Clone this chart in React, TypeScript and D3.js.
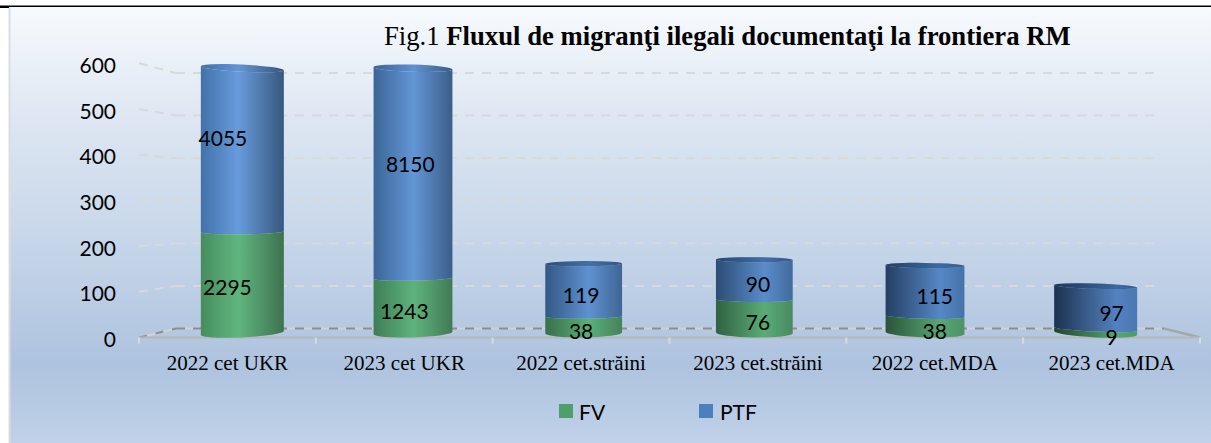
import React from 'react';
import * as d3 from 'd3';

const categories = ['2022 cet UKR', '2023 cet UKR', '2022 cet.străini', '2023 cet.străini', '2022 cet.MDA', '2023 cet.MDA'];
const fvValues = [2295, 1243, 38, 76, 38, 9];
const ptfValues = [4055, 8150, 119, 90, 115, 97];
// the UKR columns are drawn at a tenth of their labels, the axis stops them at 600
const plotDivisor = [10, 10, 1, 1, 1, 1];
const yTicks = [0, 100, 200, 300, 400, 500, 600];
const legendNames = ['FV', 'PTF'];

const WIDTH = 1211;
const HEIGHT = 443;
const LABEL_FONT = 'Lato, "Open Sans", sans-serif';
const SERIF_FONT = '"Liberation Serif", "Times New Roman", serif';

// front edge, middle (where the columns stand) and back wall of the 3D box
const yFront = d3.scaleLinear().domain([0, 600]).range([337.5, 63.3]).clamp(true);
const yMid = d3.scaleLinear().domain([0, 600]).range([333, 68.2]).clamp(true);
const yBack = d3.scaleLinear().domain([0, 600]).range([328.5, 73]).clamp(true);
const xFront = d3.scaleBand<string>().domain(categories).range([139, 1200]);
const xMid = d3.scaleBand<string>().domain(categories).range([157, 1181]);
const xBack = d3.scaleBand<string>().domain(categories).range([176, 1164]);

const BASE_RY = 4.4;
const TOP_RY = 2.6;
const CLIPPED_RY = 3.6;

// -1 for the leftmost column, +1 for the rightmost
const sideOf = d3.scaleLinear().domain([0, categories.length - 1]).range([-1, 1]);

const palettes = {
  FV: {
    left: d3.interpolateRgb('#468c5e', '#234530'),
    mid: d3.interpolateRgb('#60b67e', '#55a572'),
    right: d3.interpolateRgb('#3f7250', '#4f9a6a'),
  },
  PTF: {
    left: d3.interpolateRgb('#4272a9', '#1d3250'),
    mid: d3.interpolateRgb('#679bdc', '#5282c0'),
    right: d3.interpolateRgb('#37587f', '#4a78b3'),
  },
};

// hand-moved labels in the original
const labelNudge: Record<string, [number, number]> = {
  'PTF-0': [-4.5, -4],
  'PTF-1': [6, -10],
};

function disc(cx: number, y: number, w: number, side: number, ry: number) {
  const tilt = (side * 4 * (y - 200)) / 134;
  return {
    x0: cx - w / 2,
    x1: cx + w / 2,
    y0: y - tilt / 2,
    y1: y + tilt / 2,
    rx: w / 2,
    ry,
    rot: (Math.atan2(tilt, w) * 180) / Math.PI,
  };
}

function bodyPath(low: ReturnType<typeof disc>, high: ReturnType<typeof disc>) {
  return `M${low.x0},${low.y0}A${low.rx},${low.ry} ${low.rot} 0 0 ${low.x1},${low.y1}` +
    `L${high.x1},${high.y1}A${high.rx},${high.ry} ${high.rot} 0 1 ${high.x0},${high.y0}Z`;
}

function capPath(d: ReturnType<typeof disc>) {
  return `M${d.x0},${d.y0}A${d.rx},${d.ry} ${d.rot} 0 0 ${d.x1},${d.y1}` +
    `A${d.rx},${d.ry} ${d.rot} 0 0 ${d.x0},${d.y0}Z`;
}

export default function App() {
  const columns = categories.map((name, i) => {
    const side = sideOf(i);
    const w = 76.5 + 6.5 * side * side;
    const cx = xMid(name)! + xMid.bandwidth() / 2;
    const fv = fvValues[i] / plotDivisor[i];
    const ptf = ptfValues[i] / plotDivisor[i];
    const clipped = fv + ptf > 600;
    const bottom = disc(cx, yMid(0), w, side, BASE_RY);
    const split = disc(cx, yMid(fv), w, side, TOP_RY);
    const top = disc(cx, yMid(fv + ptf), w, side, clipped ? CLIPPED_RY : TOP_RY);
    return { name, i, side, fv, ptf, bottom, split, top, clipped, hi: 60 + 15 * side };
  });

  const labelX = (name: string) => xFront(name)! + xFront.bandwidth() / 2;
  const tickEdges = [...categories.map(c => xFront(c)!), xFront.range()[1]];
  const backLeft = xBack.range()[0];
  const backRight = xBack.range()[1];

  return (
    <svg width={WIDTH} height={HEIGHT} style={{ position: 'absolute', left: 0, top: 0, display: 'block' }}>
      <defs>
        <linearGradient id="panel" x1="0" y1="0" x2="0" y2="1">
          <stop offset="0%" stopColor="#f7fafd" />
          <stop offset="26%" stopColor="#dde6f2" />
          <stop offset="52%" stopColor="#c8d7ea" />
          <stop offset="82%" stopColor="#aec3df" />
          <stop offset="100%" stopColor="#c0d1e8" />
        </linearGradient>
        {columns.map(c => (
          <React.Fragment key={c.name}>
            {(['FV', 'PTF'] as const).map(s => {
              const t = (c.side + 1) / 2;
              return (
                <linearGradient key={s} id={`${s}-${c.i}`} x1="0" y1="0" x2="1" y2="0">
                  <stop offset="0%" stopColor={palettes[s].left(t)} />
                  <stop offset={`${c.hi}%`} stopColor={palettes[s].mid(t)} />
                  <stop offset="100%" stopColor={palettes[s].right(t)} />
                </linearGradient>
              );
            })}
          </React.Fragment>
        ))}
      </defs>

      <rect x={0} y={0} width={WIDTH} height={HEIGHT} fill="#fff" />
      <rect x={9} y={7} width={WIDTH - 9} height={HEIGHT - 7} fill="url(#panel)" />
      <line x1={9.5} x2={9.5} y1={7} y2={HEIGHT} stroke="#d9dde2" strokeWidth={2} />
      <line x1={0} x2={WIDTH} y1={6.3} y2={6.3} stroke="#000" strokeWidth={1.4} />
      <line x1={0} x2={9} y1={7} y2={7} stroke="#000" strokeWidth={2} />

      <text x={384} y={45} fontFamily={SERIF_FONT} fontSize={26.7} fill="#000">
        Fig.1 <tspan fontWeight="bold">Fluxul de migranţi ilegali documentaţi la frontiera RM</tspan>
      </text>

      {/* gridlines on the side and back walls */}
      {yTicks.filter(t => t > 0).map(t => (
        <g key={t} fill="none" stroke="#d7d9db" strokeWidth={2}>
          <line x1={xFront.range()[0]} y1={yFront(t)} x2={backLeft} y2={yBack(t)} strokeDasharray="9 7" />
          <line x1={backLeft} y1={yBack(t)} x2={backRight - 6} y2={yBack(t)} strokeDasharray="9 8" />
        </g>
      ))}

      {/* floor */}
      <g fill="none">
        <line x1={xFront.range()[0]} y1={yFront(0)} x2={backLeft} y2={yBack(0)} stroke="#cfd2d6" strokeWidth={2} />
        <line x1={xFront.range()[0]} y1={yFront(0)} x2={backLeft} y2={yBack(0)} stroke="#8d8d8d" strokeWidth={2} strokeDasharray="8 9" />
        <line x1={backLeft} y1={yBack(0)} x2={backRight} y2={yBack(0)} stroke="#cfd2d6" strokeWidth={2} />
        <line x1={backLeft} y1={yBack(0)} x2={backRight} y2={yBack(0)} stroke="#8d8d8d" strokeWidth={2} strokeDasharray="9 8" />
        <line x1={backRight} y1={yBack(0)} x2={xFront.range()[1]} y2={yFront(0)} stroke="#a6a6a6" strokeWidth={2.5} />
        <line x1={xFront.range()[0]} y1={yFront(0)} x2={xFront.range()[1]} y2={yFront(0)} stroke="#b5b8bb" strokeWidth={2} />
        {tickEdges.map(x => (
          <line key={x} x1={x} x2={x} y1={yFront(0)} y2={yFront(0) + 6} stroke="#d8dadc" strokeWidth={2} />
        ))}
      </g>

      {/* columns */}
      {columns.map(c => (
        <g key={c.name}>
          <path d={bodyPath(c.split, c.top)} fill={`url(#PTF-${c.i})`} />
          <path d={capPath(c.top)} fill={`url(#PTF-${c.i})`} />
          <path d={capPath(c.top)} fill="#1f3f6b" opacity={c.clipped ? 0.05 : 0.4} />
          <path d={bodyPath(c.bottom, c.split)} fill={`url(#FV-${c.i})`} />
        </g>
      ))}

      {/* value labels */}
      <g fontFamily={LABEL_FONT} fontSize={21} fill="#000" textAnchor="middle" dominantBaseline="central">
        {columns.map(c => {
          const ptfMid = c.fv + c.ptf / 2;
          const nudge = labelNudge[`PTF-${c.i}`] || [0, 0];
          const clippedMid = c.i === 1 ? (c.fv + 600) / 2 : ptfMid;
          return (
            <React.Fragment key={c.name}>
              <text x={labelX(c.name)} y={yFront(c.fv / 2) + 1.3}>{fvValues[c.i]}</text>
              <text x={labelX(c.name) + nudge[0]} y={yFront(clippedMid) + 1.3 + nudge[1]}>{ptfValues[c.i]}</text>
            </React.Fragment>
          );
        })}
      </g>

      {/* y axis */}
      <g fontFamily={LABEL_FONT} fontSize={21} fill="#000" textAnchor="end" dominantBaseline="central">
        {yTicks.map(t => (
          <text key={t} x={116} y={yFront(t) + 1}>{d3.format('d')(t)}</text>
        ))}
      </g>

      {/* x axis */}
      <g fontFamily={SERIF_FONT} fontSize={21} fill="#000" textAnchor="middle">
        {categories.map(c => (
          <text key={c} x={labelX(c)} y={370}>{c}</text>
        ))}
      </g>

      {/* legend */}
      <rect x={559} y={404} width={14} height={14} fill="#4f9f6c" />
      <text x={579} y={411} fontFamily={LABEL_FONT} fontSize={21} dominantBaseline="central">{legendNames[0]}</text>
      <rect x={699} y={404} width={14} height={14} fill="#4c7fbd" />
      <text x={720} y={411} fontFamily={LABEL_FONT} fontSize={21} dominantBaseline="central">{legendNames[1]}</text>
    </svg>
  );
}
